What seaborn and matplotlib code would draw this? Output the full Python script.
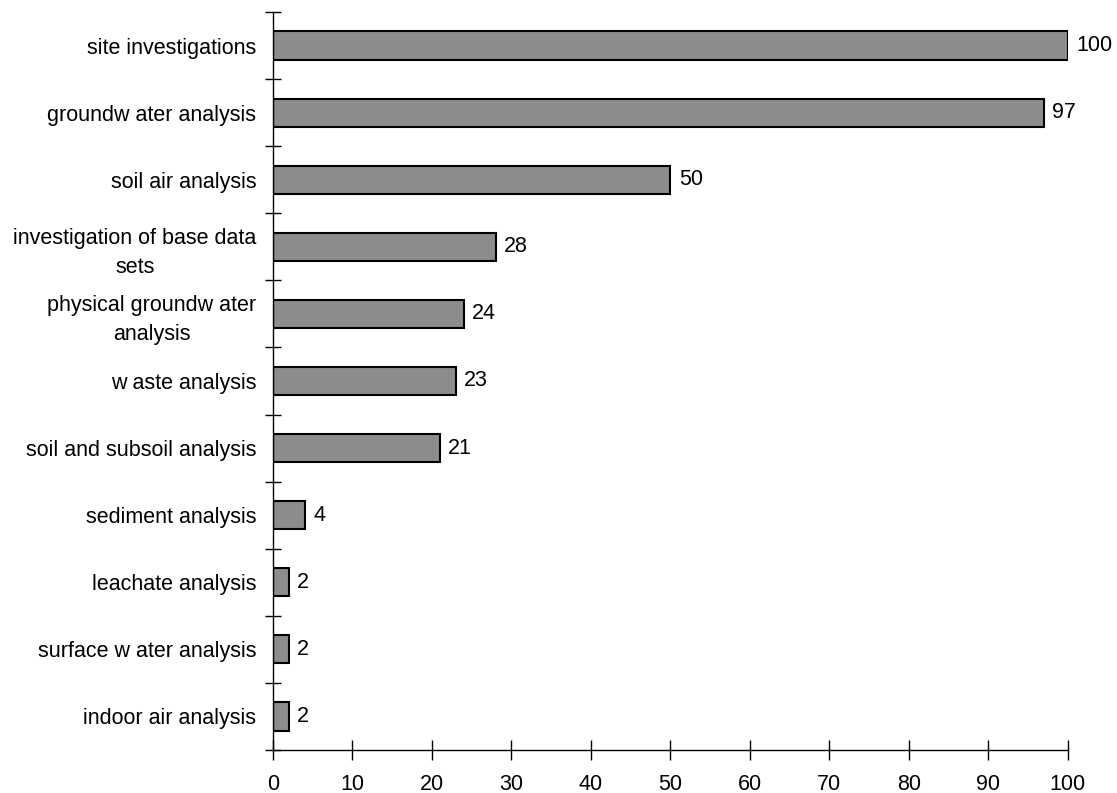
import matplotlib.pyplot as plt
import seaborn as sns
import pandas as pd
import numpy as np

sns.set_theme(style="white")
plt.rcParams['font.family'] = ['Liberation Sans', 'DejaVu Sans']
plt.rcParams['text.color'] = 'black'
plt.rcParams['xtick.color'] = 'black'
plt.rcParams['ytick.color'] = 'black'

BAR_GRAY = "#8c8c8c"
FS = 15.5

categories = [
    "site investigations",
    "groundw ater analysis",
    "soil air analysis",
    "investigation of base data\nsets",
    "physical groundw ater\nanalysis",
    "w aste analysis",
    "soil and subsoil analysis",
    "sediment analysis",
    "leachate analysis",
    "surface w ater analysis",
    "indoor air analysis",
]
counts = [100, 97, 50, 28, 24, 23, 21, 4, 2, 2, 2]
x_ticks = list(range(0, 101, 10))

df = pd.DataFrame({"category": categories, "count": counts})

fig = plt.figure(figsize=(11.17, 7.93), dpi=100)
ax = fig.add_axes([0.2444, 0.0542, 0.7116, 0.9307])

sns.barplot(data=df, x="count", y="category", orient="h", color=BAR_GRAY,
            edgecolor="black", linewidth=1.5, width=0.42, saturation=1, ax=ax)

# etiquetas de valor a la derecha de cada barra
for i, v in enumerate(counts):
    ax.annotate(f"{v}", (v, i), xytext=(6, 0), textcoords="offset points",
                ha="left", va="center", fontsize=FS, color="black")

ax.set_xlim(0, 100)
ax.set_ylim(len(categories) - 0.5, -0.5)
ax.set_xticks(x_ticks)
ax.set_yticks(range(len(categories)))
ax.set_yticklabels(categories, linespacing=1.45, multialignment="center")
ax.set_xlabel("")
ax.set_ylabel("")

# marcas del eje y entre categorías
ax.set_yticks(np.arange(-0.5, len(categories), 1.0), minor=True)
ax.tick_params(axis="y", which="major", length=0, pad=12, labelsize=FS, labelcolor="black")
ax.tick_params(axis="y", which="minor", length=12, width=1, direction="inout", color="black", left=True)
ax.tick_params(axis="x", which="major", length=14, width=1, direction="inout", color="black",
               bottom=True, pad=10, labelsize=FS, labelcolor="black")

sns.despine(ax=ax)
ax.spines["left"].set_color("black")
ax.spines["bottom"].set_color("black")
ax.spines["left"].set_linewidth(1)
ax.spines["bottom"].set_linewidth(1)

plt.savefig("out.png", dpi=100)
